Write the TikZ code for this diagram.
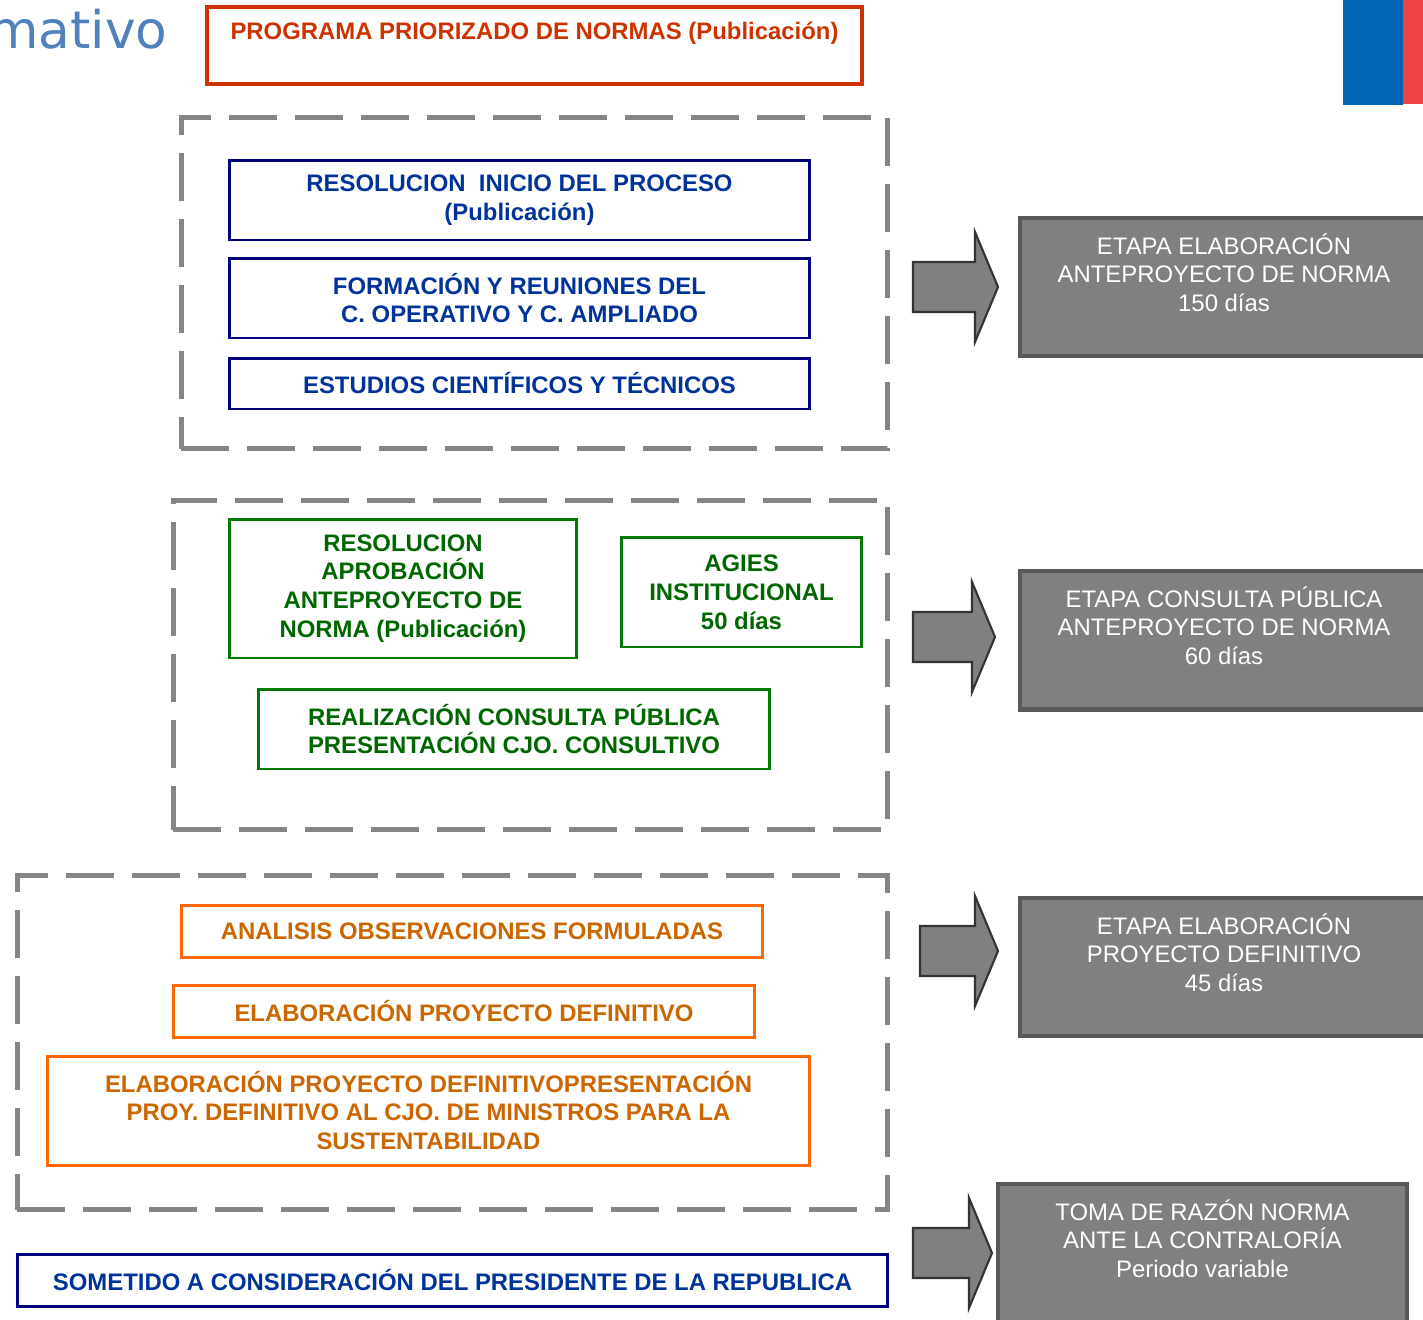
\documentclass[tikz,border=0pt]{standalone}
\usepackage{fontspec}
\setmainfont{Liberation Sans}
\newfontfamily\titlefont{DejaVu Sans}
\definecolor{rojo}{HTML}{CC3300}
\definecolor{azulborde}{HTML}{000080}
\definecolor{azultexto}{HTML}{003399}
\definecolor{verdeborde}{HTML}{007A00}
\definecolor{verdetexto}{HTML}{006600}
\definecolor{naranjaborde}{HTML}{FF6600}
\definecolor{naranjatexto}{HTML}{CC6600}
\definecolor{grisfondo}{HTML}{808080}
\definecolor{grisborde}{HTML}{595959}
\definecolor{grisdash}{HTML}{858585}
\definecolor{flechaborde}{HTML}{333333}
\definecolor{titulo}{HTML}{4F81BD}
\definecolor{banderaazul}{HTML}{0066B3}
\definecolor{banderarojo}{HTML}{EF4444}
\tikzset{
  caja/.style={draw, inner sep=0pt, align=center,
    font=\fontsize{13.6}{16.4}\selectfont\bfseries},
  cajaroja/.style={caja, draw=rojo, text=rojo, line width=2.3pt},
  cajaazul/.style={caja, draw=azulborde, text=azultexto, line width=1.7pt},
  cajaverde/.style={caja, draw=verdeborde, text=verdetexto, line width=1.7pt},
  cajanaranja/.style={caja, draw=naranjaborde, text=naranjatexto, line width=1.7pt},
  etapa/.style={draw=grisborde, fill=grisfondo, text=white, line width=2.3pt,
    inner sep=0pt, align=center, font=\fontsize{13.6}{16.4}\selectfont},
  grupo/.style={draw=grisdash, line width=0.1cm, dash pattern=on 0.96cm off 0.36cm},
  arrowfill/.style={draw=flechaborde, fill=grisfondo, line width=1.2pt, line join=miter},
  pics/flecha/.style={code={
    \draw[arrowfill] (-#1,-25) -- (-23,-25) -- (-23,-55) -- (0,0)
      -- (-23,55) -- (-23,25) -- (-#1,25) -- cycle;}}
}
\begin{document}
\begin{tikzpicture}[x=0.02cm, y=-0.02cm]
  \useasboundingbox (0,0) rectangle (1423,1319);
  \clip (0,0) rectangle (1423,1319);

  % encabezado
  \node[anchor=base east, inner sep=0pt, text=titulo,
    font=\titlefont\fontsize{29.5}{34}\selectfont] (mativo) at (168,48) {mativo};
  \fill[banderaazul] (1343,0) rectangle (1403,105);
  \fill[banderarojo] (1403,0) rectangle (1423,104);

  \node[cajaroja, minimum width=13.1cm, minimum height=1.54cm] (programa) at (534.5,45.5)
    {PROGRAMA PRIORIZADO DE NORMAS (Publicación)\\\mbox{}};

  % etapa 1
  \node[grupo, minimum width=14.14cm, minimum height=6.64cm] (grupo1) at (534.5,283) {};
  \node[cajaazul, minimum width=11.62cm, minimum height=1.6cm] (inicio) at (519.5,200)
    {RESOLUCION\ \ INICIO DEL PROCESO\\(Publicación)};
  \node[cajaazul, minimum width=11.62cm, minimum height=1.6cm] (formacion) at (519.5,298)
    {FORMACIÓN Y REUNIONES DEL\\C. OPERATIVO Y C. AMPLIADO};
  \node[cajaazul, minimum width=11.62cm, minimum height=1.02cm] (estudios) at (519.5,383.5)
    {ESTUDIOS CIENTÍFICOS Y TÉCNICOS};
  \pic at (998,287) {flecha=85};
  \node[etapa, minimum width=8.16cm, minimum height=2.76cm] (etapa1) at (1224,287)
    {ETAPA ELABORACIÓN\\ANTEPROYECTO DE NORMA\\150 días\\\mbox{}};

  % etapa 2
  \node[grupo, minimum width=14.3cm, minimum height=6.6cm] (grupo2) at (530.5,665) {};
  \node[cajaverde, minimum width=6.96cm, minimum height=2.78cm] (aprobacion) at (403,588.5)
    {RESOLUCION\\APROBACIÓN\\ANTEPROYECTO DE\\NORMA (Publicación)};
  \node[cajaverde, minimum width=4.82cm, minimum height=2.2cm] (agies) at (741.5,592)
    {AGIES\\INSTITUCIONAL\\50 días};
  \node[cajaverde, minimum width=10.24cm, minimum height=1.6cm] (consulta) at (514,729)
    {REALIZACIÓN CONSULTA PÚBLICA\\PRESENTACIÓN CJO. CONSULTIVO};
  \pic at (995,637) {flecha=82};
  \node[etapa, minimum width=8.16cm, minimum height=2.78cm] (etapa2) at (1224,640)
    {ETAPA CONSULTA PÚBLICA\\ANTEPROYECTO DE NORMA\\60 días\\\mbox{}};

  % etapa 3
  \node[grupo, minimum width=17.42cm, minimum height=6.7cm] (grupo3) at (452.5,1042.5) {};
  \node[cajanaranja, minimum width=11.64cm, minimum height=1.04cm] (analisis) at (472,931)
    {ANALISIS OBSERVACIONES FORMULADAS};
  \node[cajanaranja, minimum width=11.64cm, minimum height=1.04cm] (definitivo) at (464,1011)
    {ELABORACIÓN PROYECTO DEFINITIVO};
  \node[cajanaranja, minimum width=15.26cm, minimum height=2.18cm] (ministros) at (428.5,1110.5)
    {ELABORACIÓN PROYECTO DEFINITIVOPRESENTACIÓN\\PROY. DEFINITIVO AL CJO. DE MINISTROS PARA LA\\SUSTENTABILIDAD};
  \pic at (998,951) {flecha=78};
  \node[etapa, minimum width=8.16cm, minimum height=2.76cm] (etapa3) at (1224,967)
    {ETAPA ELABORACIÓN\\PROYECTO DEFINITIVO\\45 días\\\mbox{}};

  % etapa 4
  \node[cajaazul, minimum width=17.42cm, minimum height=1.04cm] (presidente) at (452.5,1280)
    {SOMETIDO A CONSIDERACIÓN DEL PRESIDENTE DE LA REPUBLICA};
  \pic at (992,1253) {flecha=79};
  \node[etapa, minimum width=8.18cm, minimum height=2.78cm] (etapa4) at (1202.5,1253)
    {TOMA DE RAZÓN NORMA\\ANTE LA CONTRALORÍA\\Periodo variable\\\mbox{}};
\end{tikzpicture}
\end{document}
